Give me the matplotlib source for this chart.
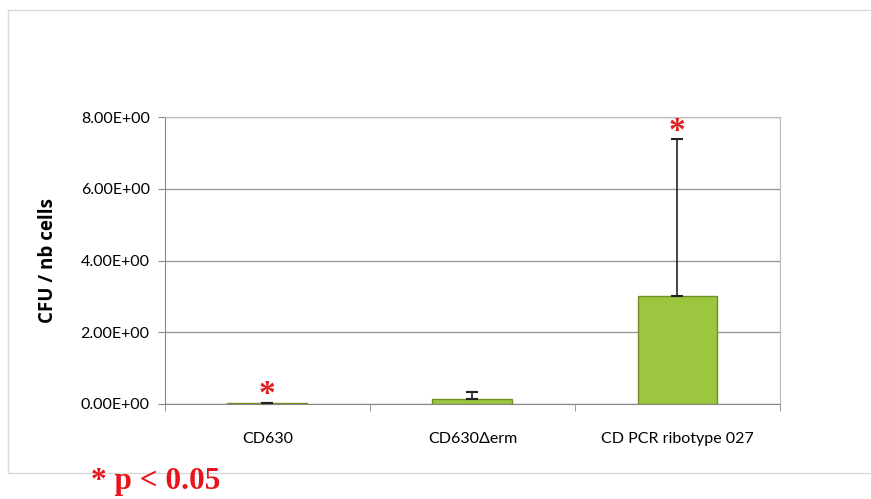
import matplotlib
matplotlib.use("Agg")
from matplotlib import pyplot as plt
from matplotlib.lines import Line2D
import numpy as np

categories = ["CD630", "CD630\u0394erm", "CD PCR ribotype 027"]
values = [0.02, 0.15, 3.0]
errors_up = [0.02, 0.18, 4.38]
significant = [True, False, True]
yticks = [0, 2, 4, 6, 8]
ytick_labels = ["0.00E+00", "2.00E+00", "4.00E+00", "6.00E+00", "8.00E+00"]

fig = plt.figure(figsize=(8.71, 4.99), dpi=100)
ax = fig.add_axes([0.1894, 0.1904, 0.7061, 0.5751])

# outer chart frame (Excel chart area), open on the right
fig.add_artist(Line2D([1.0, 0.009, 0.009, 1.0], [0.98, 0.98, 0.052, 0.052],
                      transform=fig.transFigure, color="#d9d9d9", linewidth=1.0))

x = np.arange(len(categories))
ax.bar(x, values, width=0.39, color="#9cc63f", edgecolor="#6f8f22", linewidth=1.0, zorder=3)
ax.errorbar(x, values, yerr=[np.zeros(len(values)), errors_up], fmt="none",
            ecolor="#222222", elinewidth=1.2, capsize=4, capthick=1.5, zorder=4)

for xi, v, e, s in zip(x, values, errors_up, significant):
    if s:
        ax.text(xi, v + e - 0.22, "*", color="#e02020", fontsize=24, fontweight="bold",
                ha="center", va="bottom", family="Liberation Serif")

ax.set_xlim(-0.5, 2.5)
ax.set_ylim(0, 8)
ax.set_yticks(yticks)
ax.set_yticklabels(ytick_labels, family="Lato", fontsize=11.5)
ax.set_xticks(x)
ax.set_xticklabels(categories, family="Lato", fontsize=11.5)
ax.set_xticks([-0.5, 0.5, 1.5, 2.5], minor=True)
ax.tick_params(axis="x", which="major", length=0, pad=20)
ax.tick_params(axis="x", which="minor", length=5, color="#888888")
ax.tick_params(axis="y", length=5, color="#888888", pad=6)
ax.yaxis.grid(True, color="#999999", linewidth=1.0, zorder=0)
ax.set_axisbelow(True)
for sp in ["left", "bottom"]:
    ax.spines[sp].set_color("#888888")
for sp in ["top", "right"]:
    ax.spines[sp].set_color("#bbbbbb")
ax.set_ylabel("CFU / nb cells", family="Open Sans", fontweight="bold", fontsize=13.5, labelpad=16)

fig.text(0.104, 0.006, "* p < 0.05", color="#e8141c", fontsize=22.5, fontweight="bold",
         family="Liberation Serif", ha="left", va="bottom")

fig.savefig("out.png", dpi=100, facecolor="white")
